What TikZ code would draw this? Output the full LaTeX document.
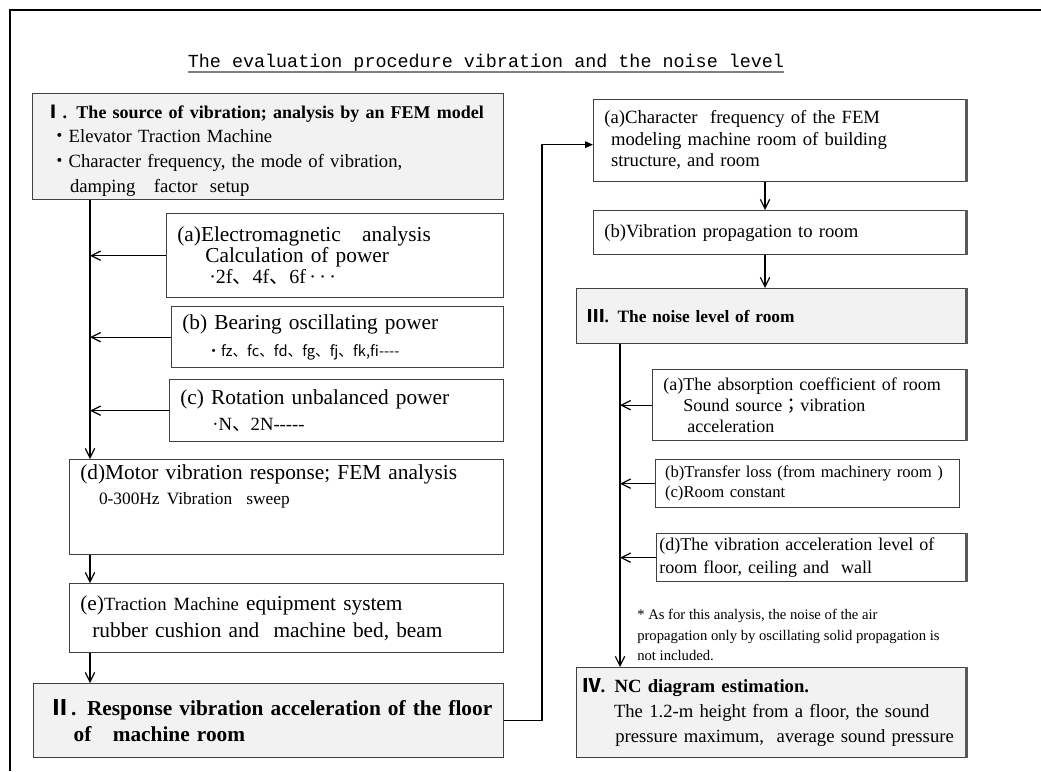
\documentclass[tikz,border=0pt]{standalone}
\usepackage{fontspec}
\setmainfont{Liberation Serif}
\setmonofont{Liberation Mono}
\newfontfamily\cjk{Noto Sans CJK JP}
\usetikzlibrary{arrows.meta}

\newcommand{\fs}[2]{\fontsize{#1}{#2}\selectfont}
\newcommand{\pt}{{\cjk ・}}
\newcommand{\cm}{{\cjk 、}}

\begin{document}
\begin{tikzpicture}[x=0.75pt,y=-0.75pt,
  box/.style={draw=black!75,line width=1pt,anchor=north west,align=left,
    inner xsep=8pt,inner ysep=0pt},
  hbox/.style={box,fill=black!5},
  arr/.style={-{Straight Barb[length=7pt,width=7pt]},line width=0.9pt},
  tip/.style={-{Triangle[length=6pt,width=5pt]},line width=0.9pt}]

\useasboundingbox (0,0) rectangle (1041,771);

% frame
\draw[line width=1.6pt] (10,771) -- (10,10) -- (1041,10);

% title
\node[inner sep=0pt,font=\ttfamily\fs{13.8}{16}] (title) at (486,63)
  {The evaluation procedure vibration and the noise level};
\draw[black!50,line width=1.2pt] ([yshift=-3pt]title.base west) -- ([yshift=-3pt]title.base east);

% left column
\node[hbox,text width=337.25pt,minimum height=79.5pt,font=\fs{14}{18.5}] (I) at (32,93)
  {\hspace{1pt}{\bfseries\fs{13.5}{18.5}\rule{0pt}{16pt}{\cjk Ⅰ}. The source of vibration; analysis by an FEM model}\\
   \hspace{5pt}\pt Elevator Traction Machine\\
   \hspace{5pt}\pt Character frequency, the mode of vibration,\\
   \hspace{20pt}damping\ \ \ factor\ \ setup};
\node[box,text width=236.75pt,minimum height=63pt,font=\fs{16}{16}] (a) at (166,213)
  {(a)Electromagnetic\ \ \ analysis\\
   \hspace{21pt}Calculation of power\\
   \hspace{24pt}\fs{15}{15}\textperiodcentered 2f\cm 4f\cm 6f\,\textperiodcentered\,\textperiodcentered\,\textperiodcentered};
\node[box,text width=233pt,minimum height=45.75pt,font=\fs{16}{20}] (b) at (171,306)
  {(b) Bearing oscillating power\\
   \hspace{18pt}{\cjk\fs{11}{14}・fz\cm fc\cm fd\cm fg\cm fj\cm fk,fi-{}-{}-{}-}};
\node[box,text width=234.5pt,minimum height=46.5pt,font=\fs{16}{20}] (c) at (169,379)
  {(c) Rotation unbalanced power\\
   \hspace{24pt}\fs{14}{14}\textperiodcentered N\cm 2N-{}-{}-{}-{}-};
\node[box,text width=309.5pt,minimum height=71.25pt,font=\fs{16}{19}] (d) at (69,459)
  {(d)Motor vibration response; FEM analysis\\
   \hspace{14pt}\fs{13}{15}0-300Hz Vibration\ \ sweep\rule[-34pt]{0pt}{0pt}};
\node[box,text width=309.5pt,minimum height=51.75pt,font=\fs{16}{20}] (e) at (69,583)
  {(e){\fs{14}{20}Traction Machine} equipment system\\
   \hspace{9pt}rubber cushion and\ \ machine bed, beam};
\node[hbox,text width=336.5pt,minimum height=55.5pt,font=\bfseries\fs{16}{20}] (II) at (33,683)
  {\hspace{4pt}{\cjk Ⅱ}. Response vibration acceleration of the floor\\
   \hspace{22pt}of\ \ \ machine room};

% right column
\node[box,text width=263pt,minimum height=61.5pt,font=\fs{14}{16}] (ra) at (593,99)
  {(a)Character\ \ frequency of the FEM\\
   \hspace{5pt}modeling machine room of building\\
   \hspace{5pt}structure, and room\rule[-3pt]{0pt}{0pt}};
\node[box,text width=263pt,minimum height=33pt,font=\fs{14}{16}] (rb) at (593,210)
  {(b)Vibration propagation to room};
\node[hbox,text width=275.75pt,minimum height=41.25pt,font=\bfseries\fs{13}{16}] (III) at (576,288)
  {{\cjk Ⅲ}. The noise level of room};
\node[box,text width=218.75pt,minimum height=53.25pt,font=\fs{13.5}{16}] (na) at (652,369)
  {(a)The absorption coefficient of room\\
   \hspace{15pt}Sound source{\cjk ；}vibration\\
   \hspace{18pt}acceleration};
\node[box,text width=214pt,minimum height=36pt,inner xsep=7pt,font=\fs{12.5}{15}] (nb) at (655,459)
  {(b)Transfer loss (from machinery room )\\
   (c)Room constant};
\node[box,text width=215.75pt,minimum height=36pt,font=\fs{13.5}{17}] (nd) at (656,533)
  {\hspace{-6pt}(d)The vibration acceleration level of\\
   \hspace{-6pt}room floor, ceiling and\ \ wall};
\node[anchor=north west,align=left,inner sep=0pt,font=\fs{11}{15.5}] (note) at (637,609)
  {* As for this analysis, the noise of the air\\
   propagation only by oscillating solid propagation is\\
   not included.};
\node[hbox,text width=275.75pt,minimum height=67.5pt,font=\fs{14}{19}] (IV) at (576,667)
  {\hspace{-4pt}\textbf{{\cjk Ⅳ}. NC diagram estimation.}\\
   \hspace{20pt}The 1.2-m height from a floor, the sound\\
   \hspace{21pt}pressure maximum,\ \ average sound pressure};

% shaded right edges
\foreach \n in {ra,rb,III,na,nd,IV}
  \draw[black!65,line width=2pt] (\n.north east) -- (\n.south east);

% spines
\coordinate (lsp) at (90,0);
\coordinate (rsp) at (765,0);
\coordinate (nsp) at (620,0);
\coordinate (bend) at (542,0);

\draw[arr] (I.south -| lsp) -- (d.north -| lsp);
\foreach \n in {a,b,c}
  \draw[arr] (\n.west) -- (\n.west -| lsp);
\draw[arr] (d.south -| lsp) -- (e.north -| lsp);
\draw[arr] (e.south -| lsp) -- (II.north -| lsp);

\draw[tip] (II.east) -- (II.east -| bend) |- ([yshift=-3pt]ra.west);
\draw[arr] (ra.south -| rsp) -- (rb.north -| rsp);
\draw[arr] (rb.south -| rsp) -- (III.north -| rsp);

\draw[arr] (III.south -| nsp) -- (IV.north -| nsp);
\foreach \n in {na,nb,nd}
  \draw[arr] (\n.west) -- (\n.west -| nsp);

\end{tikzpicture}
\end{document}
